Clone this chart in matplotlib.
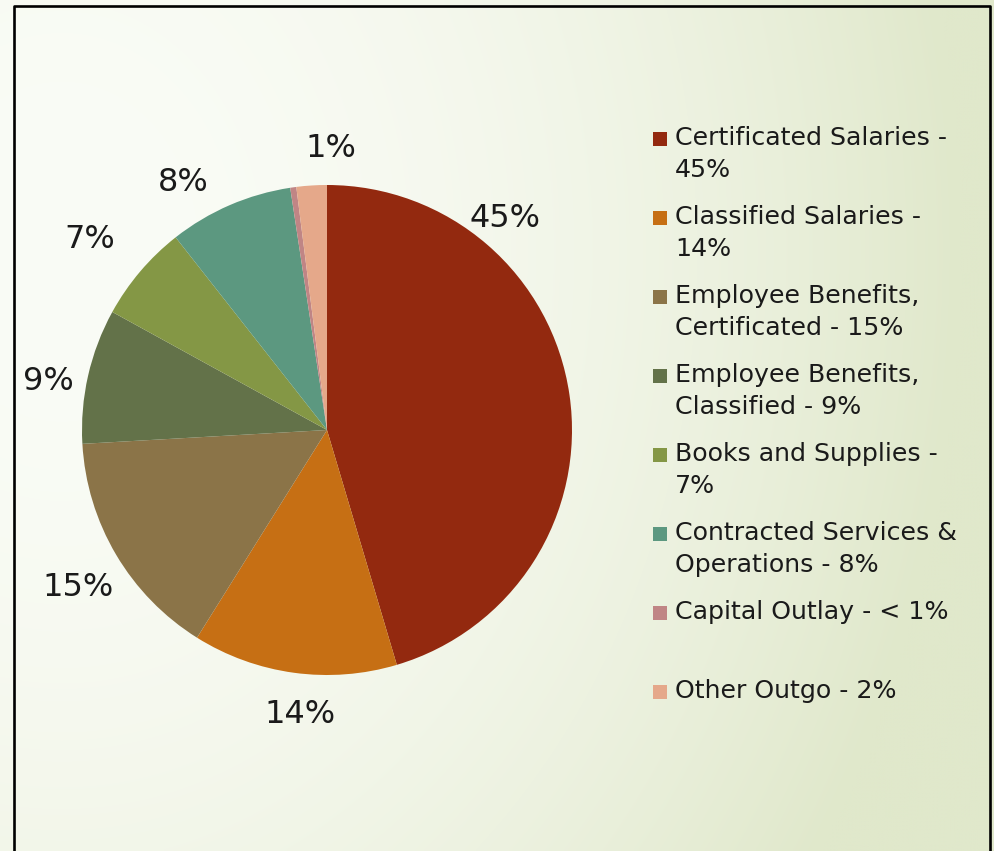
import numpy as np
import matplotlib.pyplot as plt
from matplotlib.patches import Rectangle
from matplotlib.lines import Line2D

# expenditure shares (percent)
categories = ["Certificated Salaries", "Classified Salaries",
              "Employee Benefits, Certificated", "Employee Benefits, Classified",
              "Books and Supplies", "Contracted Services & Operations",
              "Capital Outlay", "Other Outgo"]
shares = [45.4, 13.5, 15.2, 8.9, 6.4, 8.2, 0.4, 2.0]
slice_labels = ["45%", "14%", "15%", "9%", "7%", "8%", "1%", ""]
legend_labels = ["Certificated Salaries -\n45%",
                 "Classified Salaries -\n14%",
                 "Employee Benefits,\nCertificated - 15%",
                 "Employee Benefits,\nClassified - 9%",
                 "Books and Supplies -\n7%",
                 "Contracted Services &\nOperations - 8%",
                 "Capital Outlay - < 1%",
                 "Other Outgo - 2%"]
colors = ["#93290f", "#c66f14", "#8b7448", "#637249",
          "#849745", "#5c9880", "#c08585", "#e5a88a"]

# label positions in units of the pie radius (best-fit placement)
label_pos = [(0.727, 0.865), (-0.110, -1.163), (-1.016, -0.641), (-1.139, 0.196),
             (-0.967, 0.776), (-0.588, 1.012), (0.016, 1.151), (0, 0)]

W, H = 994, 851
fig = plt.figure(figsize=(W / 100, H / 100), dpi=100)

# background gradient: near white at upper left, pale green to the right
bg = fig.add_axes([0, 0, 1, 1], zorder=0)
yy, xx = np.mgrid[0:H:4, 0:W:4]
t = np.clip(((xx - 60) / 900.0) ** 2 + ((yy - 250) / 1116.0) ** 2, 0, 1)
c0 = np.array([250, 252, 246]) / 255
c1 = np.array([224, 232, 203]) / 255
img = c0[None, None, :] * (1 - t[..., None]) + c1[None, None, :] * t[..., None]
bg.imshow(img, extent=(0, W, H, 0), aspect='auto', interpolation='bilinear')
bg.set_xlim(0, W)
bg.set_ylim(H, 0)
bg.axis('off')

# pie
cx, cy, r = 327, 430, 245
ax = fig.add_axes([0, 0, 1, 1], zorder=1)
ax.patch.set_alpha(0)
ax.pie(shares, colors=colors, startangle=90, counterclock=False, radius=1,
       wedgeprops=dict(linewidth=0))
ax.set_xlim(-cx / r, (W - cx) / r)
ax.set_ylim(-(H - cy) / r, cy / r)
ax.set_aspect('equal')
ax.axis('off')

for lab, (lx, ly) in zip(slice_labels, label_pos):
    if lab:
        ax.text(lx, ly, lab, ha='center', va='center', fontsize=23, color='#1a1a1a')

# legend drawn by hand so the swatch sits on the first line
for i, (lab, col) in enumerate(zip(legend_labels, colors)):
    ytop = 126 + 79 * i
    fig.text(675 / W, 1 - ytop / H, lab, ha='left', va='top', fontsize=18.2,
             color='#1a1a1a', linespacing=1.4, zorder=3)
    fig.add_artist(Rectangle((653 / W, 1 - (146 + 79 * i) / H), 14 / W, 14 / H,
                             transform=fig.transFigure, color=col, lw=0, zorder=3))

# frame (bottom edge runs off the picture)
fig.add_artist(Line2D([14 / W, 14 / W, 990 / W, 990 / W],
                      [0, 1 - 6 / H, 1 - 6 / H, 0],
                      transform=fig.transFigure, color='black', lw=1.9, zorder=4))

fig.savefig("out.png", dpi=100)
